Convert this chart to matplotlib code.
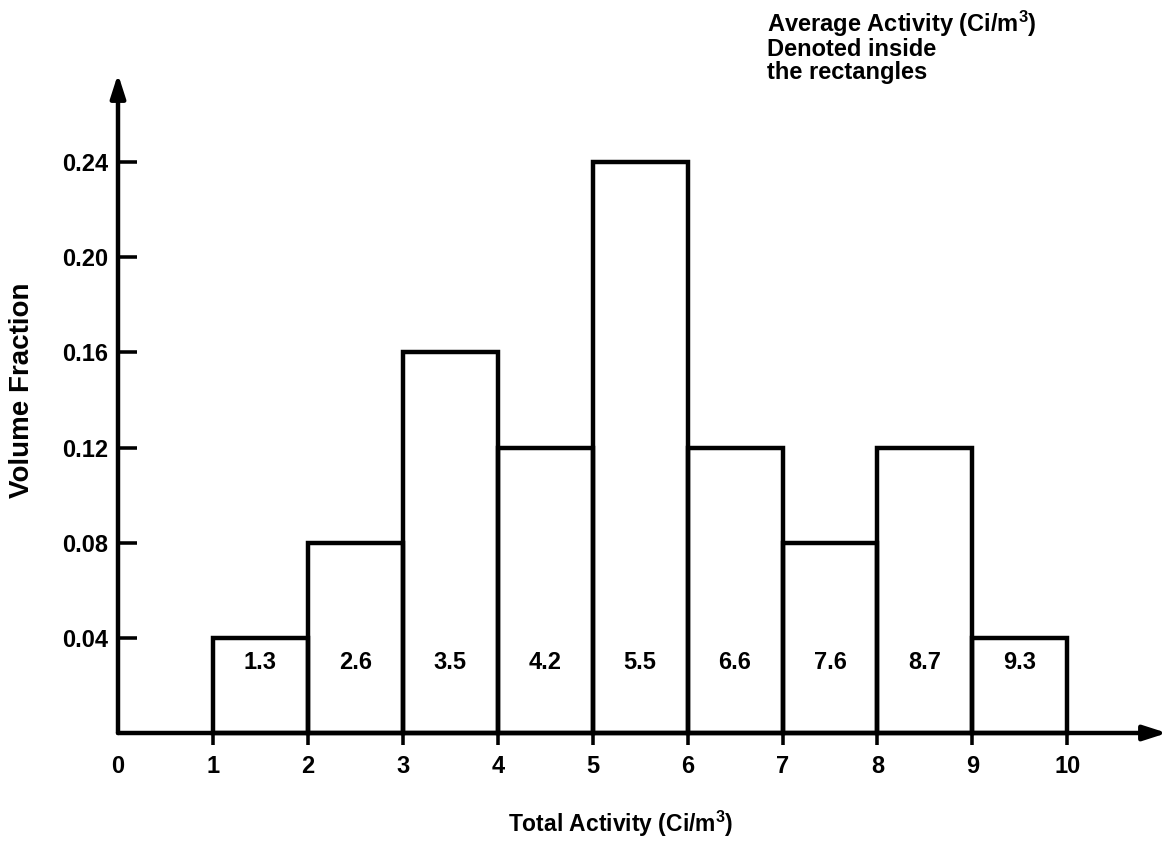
import numpy as np
import matplotlib
matplotlib.use('Agg')
import matplotlib.pyplot as plt

plt.rcParams['font.family'] = ['Liberation Sans', 'DejaVu Sans']
plt.rcParams['mathtext.fontset'] = 'custom'
plt.rcParams['mathtext.rm'] = 'Liberation Sans:bold'
plt.rcParams['mathtext.default'] = 'rm'

# bins of total activity and their volume fractions
bin_left = [1, 2, 3, 4, 5, 6, 7, 8, 9]
vol_frac = [0.04, 0.08, 0.16, 0.12, 0.24, 0.12, 0.08, 0.12, 0.04]
avg_act = ['1.3', '2.6', '3.5', '4.2', '5.5', '6.6', '7.6', '8.7', '9.3']
xticks = list(range(0, 11))
yticks = [0.04, 0.08, 0.12, 0.16, 0.20, 0.24]
note = ['Average Activity (Ci/m$^3$)', 'Denoted inside', 'the rectangles']

W, H = 1167, 841
fig = plt.figure(figsize=(W / 100, H / 100), dpi=100)
ax = fig.add_axes([118 / W, 1 - 733 / H, 1 - 118 / W, (733 - 74) / H])
ax.set_xlim(0, 11.05)
ax.set_ylim(0, 0.277)

lw = 3.2
ax.bar(bin_left, vol_frac, width=1, align='edge', fill=False,
       edgecolor='black', linewidth=lw, clip_on=False)
for xl, h, s in zip(bin_left, vol_frac, avg_act):
    ax.text(xl + 0.5, 0.0297, s, ha='center', va='center', fontsize=17,
            fontweight='bold')

for sp in ax.spines.values():
    sp.set_visible(False)

# axes drawn as arrows
arrow = dict(arrowstyle='-|>,head_length=1.4,head_width=0.45',
             color='black', lw=lw, shrinkA=0, shrinkB=0)
ax.annotate('', xy=(11.05, 0), xytext=(0, 0), arrowprops=arrow,
            annotation_clip=False)
ax.annotate('', xy=(0, 0.277), xytext=(0, 0), arrowprops=arrow,
            annotation_clip=False)

ax.set_xticks(xticks)
ax.set_xticklabels([str(t) for t in xticks])
ax.set_yticks(yticks)
ax.set_yticklabels(['%.2f' % t for t in yticks])
ax.tick_params(axis='x', direction='out', length=8.5, width=lw * 0.8, pad=7,
               labelsize=17)
ax.tick_params(axis='y', direction='in', length=14, width=lw * 0.8, pad=7,
               labelsize=17)
for lab in ax.get_xticklabels() + ax.get_yticklabels():
    lab.set_fontweight('bold')
ax.xaxis.get_major_ticks()[0].tick1line.set_visible(False)

fig.text(621 / W, 1 - 832 / H, 'Total Activity (Ci/m$^3$)',
         ha='center', va='baseline', fontsize=16.5, fontweight='bold')
fig.text(22 / W, 1 - 390 / H, 'Volume Fraction', rotation=90,
         ha='center', va='center', fontsize=20, fontweight='bold')
for i, line in enumerate(note):
    fig.text(767 / W, 1 - (32 + 23.5 * i) / H, line,
             ha='left', va='baseline', fontsize=17, fontweight='bold')

fig.savefig('out.png', dpi=100)
